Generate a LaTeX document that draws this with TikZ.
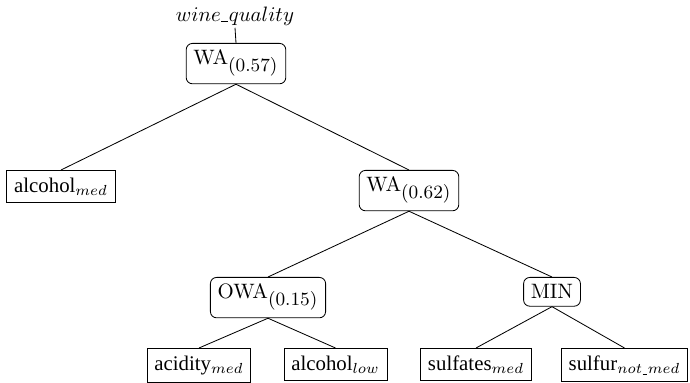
\documentclass[tikz,border=0pt]{standalone}
\usepackage[no-math]{fontspec}
\setmainfont{Liberation Serif}
\newcommand{\usc}[1]{\kern0.3pt\rule[-0.4pt]{#1}{0.4pt}\kern0.3pt}
\newcommand{\opsub}[1]{\mbox{\fontsize{9}{10}\selectfont$#1$}}
\begin{document}
\begin{tikzpicture}[x=0.48pt,y=-0.48pt,
  opbox/.style={draw,rounded corners=3pt,anchor=north,inner sep=3.5pt},
  leafbox/.style={draw,anchor=north,inner sep=3.5pt}]
\useasboundingbox (0,0) rectangle (690,383);
\node[anchor=center,inner sep=1pt] (top) at (235,16) {$wine\usc{3.2pt}quality$};
\node[opbox] (wa1) at (236,43) {$\mathrm{WA}_{\opsub{(0.57)}}$};
\node[leafbox] (alcmed) at (61,170) {alcohol$_{med}$};
\node[opbox] (wa2) at (409,170) {$\mathrm{WA}_{\opsub{(0.62)}}$};
\node[opbox] (owa) at (268,277) {$\mathrm{OWA}_{\opsub{(0.15)}}$};
\node[opbox] (min) at (552,277) {$\mathrm{MIN}$};
\node[leafbox] (acid) at (199,348) {acidity$_{med}$};
\node[leafbox] (alclow) at (335.5,348) {alcohol$_{low}$};
\node[leafbox] (sulf) at (476,348) {sulfates$_{med}$};
\node[leafbox] (sulfur) at (624.5,348) {sulfur$_{not\usc{2.2pt}med}$};
\draw (top.south) -- (wa1.north);
\draw (wa1.south) -- (alcmed.north);
\draw (wa1.south) -- (wa2.north);
\draw (wa2.south) -- (owa.north);
\draw (wa2.south) -- (min.north);
\draw (owa.south) -- (acid.north);
\draw (owa.south) -- (alclow.north);
\draw (min.south) -- (sulf.north);
\draw (min.south) -- (sulfur.north);
\end{tikzpicture}
\end{document}
